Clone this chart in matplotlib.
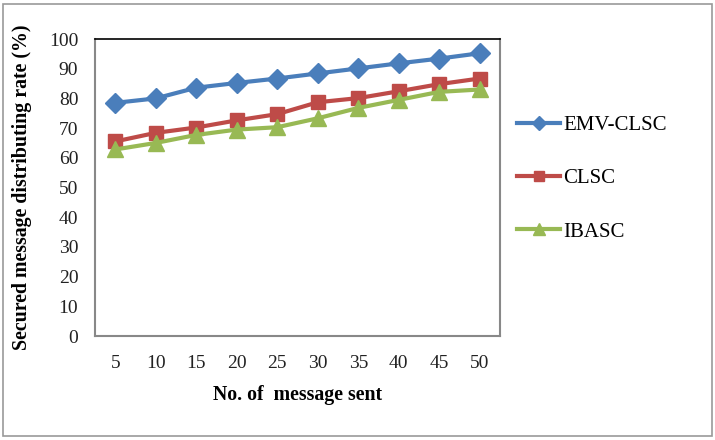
import matplotlib
matplotlib.use("Agg")
import matplotlib.pyplot as plt
from matplotlib.patches import Rectangle

categories = ["5", "10", "15", "20", "25", "30", "35", "40", "45", "50"]
emv_clsc = [78.5, 80.0, 83.6, 85.2, 86.7, 88.4, 90.1, 91.8, 93.4, 95.2]
clsc = [65.5, 68.4, 70.2, 72.6, 74.7, 78.7, 80.1, 82.4, 84.8, 86.7]
ibasc = [62.8, 65.0, 67.7, 69.5, 70.3, 73.3, 76.8, 79.5, 82.2, 83.0]
y_ticks = [0, 10, 20, 30, 40, 50, 60, 70, 80, 90, 100]

plt.rcParams['font.family'] = ['Liberation Serif', 'DejaVu Serif']

fig = plt.figure(figsize=(7.15, 4.4), dpi=100)
ax = fig.add_axes([95/715, 1 - 336/440, 405/715, (336 - 39)/440])

x = list(range(len(categories)))
ax.plot(x, emv_clsc, color="#4A7EBB", marker="D", markersize=10, linewidth=3, label="EMV-CLSC")
ax.plot(x, clsc, color="#BE4B48", marker="s", markersize=10, linewidth=3, label="CLSC")
ax.plot(x, ibasc, color="#98B954", marker="^", markersize=11.5, linewidth=3, label="IBASC")

ax.set_xlim(-0.5, len(categories) - 0.5)
ax.set_ylim(0, 100)
ax.set_xticks(x)
ax.set_xticklabels(categories)
ax.set_yticks(y_ticks)
ax.tick_params(length=0, labelsize=14, colors="#222222", pad=12)
ax.tick_params(axis='x', pad=14)
for s in ["left", "bottom", "right"]:
    ax.spines[s].set_color("#888888")
    ax.spines[s].set_linewidth(1.5)
ax.spines["top"].set_color("#000000")
ax.spines["top"].set_linewidth(1.2)

ax.set_xlabel("No. of  message sent", fontsize=14.3, fontweight="bold", labelpad=9)
ax.set_ylabel("Secured message distributing rate (%)", fontsize=14.3, fontweight="bold", labelpad=12)

leg = ax.legend(loc="center left", bbox_to_anchor=(0.995, 0.53), frameon=False,
                fontsize=15, labelspacing=1.62, handlelength=2.1, handletextpad=0.15,
                markerscale=0.7)

fig.patches.append(Rectangle((3/715, 4/440), 709/715, 432/440, transform=fig.transFigure,
                             fill=False, edgecolor="#999999", linewidth=1.2))

fig.savefig("out.png", dpi=100)
